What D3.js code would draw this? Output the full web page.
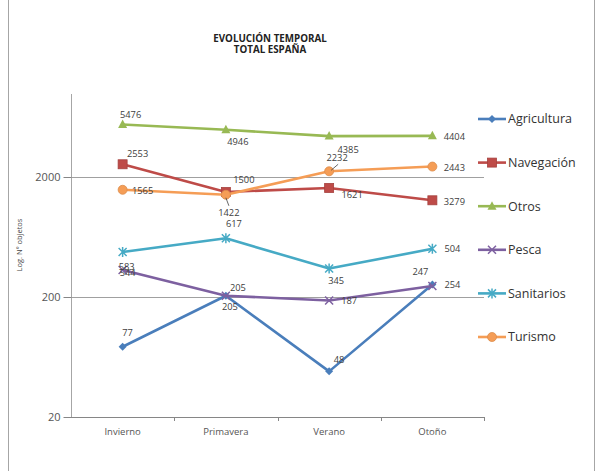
<!DOCTYPE html>
<html><head><meta charset="utf-8">
<script src="https://cdn.jsdelivr.net/npm/d3@7"></script>
<style>body{margin:0;background:#fff}svg{display:block}</style>
</head><body><svg id="c" width="598" height="471"></svg>
<script>
const categories = ["Invierno","Primavera","Verano","Otoño"];
const yTicks = [20, 200, 2000];
const seriesNames = ["Agricultura","Navegación","Otros","Pesca","Sanitarios","Turismo"];
const agricultura = [77, 205, 48, 254];
const navegacion  = [2553, 1500, 1621, 1279];
const otros       = [5476, 4946, 4385, 4404];
const pesca       = [336, 205, 187, 247];
const sanitarios  = [475, 617, 345, 504];
const turismo     = [1565, 1422, 2232, 2443];
const labAgricultura = ["77","205","48","254"];
const labNavegacion  = ["2553","1500","1621","3279"];
const labOtros       = ["5476","4946","4385","4404"];
const labPesca       = ["544","205","187","247"];
const labSanitarios  = ["583","617","345","504"];
const labTurismo     = ["1565","1422","2232","2443"];

const colors = ["#4A7EBB","#BE4B48","#98B954","#7D60A0","#46AAC5","#F59D56"];
const markers = ["diamond","square","triangle","x","asterisk","circle"];
// label offsets (layout)
const offsets = [
  [[5,-14],[4,11],[10,-12],[20,0]],
  [[15,-11],[18,-12],[23,7],[22,1]],
  [[8,-10],[12,12],[19,14],[22,1]],
  [[5,3],[12,-8],[20,0],[-12,-14]],
  [[4,15],[8,-15],[7,12],[20,0]],
  [[20,1],[3,18],[8,-14],[22,1]]
];
const seriesVals = [agricultura,navegacion,otros,pesca,sanitarios,turismo];
const seriesLabs = [labAgricultura,labNavegacion,labOtros,labPesca,labSanitarios,labTurismo];

const svg = d3.select("#c");
const L = 71, R = 484, B = 417, T = 94;
const x = d3.scalePoint().domain(categories).range([L, R]).padding(0.5);
const y = d3.scaleLog().domain([20, 2000]).range([B, 177]);

// frame
svg.append("line").attr("x1",8.5).attr("x2",8.5).attr("y1",0).attr("y2",471).attr("stroke","#A6A6A6");
svg.append("line").attr("x1",594.5).attr("x2",594.5).attr("y1",0).attr("y2",471).attr("stroke","#A6A6A6");

// title
const font = "'Open Sans', Lato, sans-serif";
svg.append("text").attr("x",270).attr("y",42).attr("text-anchor","middle")
  .attr("font-family",font).attr("font-weight","bold").attr("font-size",9.8).attr("fill","#222").text("EVOLUCIÓN TEMPORAL");
svg.append("text").attr("x",270).attr("y",53).attr("text-anchor","middle")
  .attr("font-family",font).attr("font-weight","bold").attr("font-size",9.8).attr("fill","#222").text("TOTAL ESPAÑA");

// gridlines
yTicks.filter(v=>v>20).forEach(v=>{
  svg.append("line").attr("x1",L).attr("x2",R).attr("y1",Math.round(y(v))+0.5).attr("y2",Math.round(y(v))+0.5)
    .attr("stroke","#A0A0A0").attr("stroke-width",1);
});
// y axis
svg.append("line").attr("x1",L+0.5).attr("x2",L+0.5).attr("y1",T).attr("y2",B).attr("stroke","#A6A6A6");
const yAxis = d3.axisLeft(y).tickValues(yTicks).tickFormat(d3.format("d")).tickSize(8).tickPadding(3);
const ga = svg.append("g").attr("transform",`translate(${L+0.5},0)`).call(yAxis);
ga.select(".domain").remove();
ga.selectAll("line").attr("stroke","#868686");
ga.selectAll("text").attr("font-family",font).attr("font-size",11).attr("fill","#555");
// x axis
svg.append("line").attr("x1",L).attr("x2",R).attr("y1",B+0.5).attr("y2",B+0.5).attr("stroke","#868686");
const step = x.step();
categories.forEach((c,i)=>{
  const tx = Math.round(x(c)+step/2)+0.5;
  svg.append("line").attr("x1",tx).attr("x2",tx).attr("y1",B).attr("y2",B+4).attr("stroke","#868686");
  svg.append("text").attr("x",x(c)).attr("y",B+18).attr("text-anchor","middle")
    .attr("font-family",font).attr("font-size",9.5).attr("fill","#555").text(c);
});
// y title
svg.append("text").attr("transform","translate(22,245) rotate(-90)").attr("text-anchor","middle")
  .attr("font-family",font).attr("font-size",7.5).attr("fill","#444").text("Log. Nº objetos");

function drawMarker(g, type, cx, cy, color){
  if(type==="diamond"){
    g.append("path").attr("d",`M${cx},${cy-4}L${cx+4},${cy}L${cx},${cy+4}L${cx-4},${cy}Z`).attr("fill",color);
  } else if(type==="square"){
    g.append("rect").attr("x",cx-4.5).attr("y",cy-4.5).attr("width",9).attr("height",9).attr("fill",color).attr("stroke",d3.color(color).darker(0.4)).attr("stroke-width",0.8);
  } else if(type==="triangle"){
    g.append("path").attr("d",`M${cx},${cy-5}L${cx+4.5},${cy+3.5}L${cx-4.5},${cy+3.5}Z`).attr("fill",color);
  } else if(type==="x"){
    g.append("path").attr("d",`M${cx-4},${cy-4}L${cx+4},${cy+4}M${cx-4},${cy+4}L${cx+4},${cy-4}`).attr("stroke",color).attr("stroke-width",1.5);
  } else if(type==="asterisk"){
    g.append("path").attr("d",`M${cx-4},${cy-4}L${cx+4},${cy+4}M${cx-4},${cy+4}L${cx+4},${cy-4}M${cx},${cy-5}L${cx},${cy+5}`).attr("stroke",color).attr("stroke-width",1.5);
  } else {
    g.append("circle").attr("cx",cx).attr("cy",cy).attr("r",4.5).attr("fill",color).attr("stroke",d3.color(color).darker(0.3)).attr("stroke-width",0.8);
  }
}

const line = d3.line().x((d,i)=>x(categories[i])).y(d=>y(d));
seriesVals.forEach((vals,si)=>{
  const g = svg.append("g");
  g.append("path").datum(vals).attr("d",line).attr("fill","none").attr("stroke",colors[si]).attr("stroke-width",2.6).attr("stroke-linejoin","round");
  vals.forEach((v,i)=>drawMarker(g, markers[si], x(categories[i]), y(v), colors[si]));
});
// leader lines
svg.append("line").attr("x1",x("Primavera")).attr("y1",y(turismo[1])+3).attr("x2",x("Primavera")+3).attr("y2",y(turismo[1])+11).attr("stroke","#404040").attr("stroke-width",0.8);
svg.append("line").attr("x1",x("Verano")+2).attr("y1",y(turismo[2])-1).attr("x2",x("Verano")+9).attr("y2",y(turismo[2])-7).attr("stroke","#404040").attr("stroke-width",0.8);
// data labels
seriesVals.forEach((vals,si)=>{
  vals.forEach((v,i)=>{
    const o = offsets[si][i];
    svg.append("text").attr("x",x(categories[i])+o[0]).attr("y",y(v)+o[1]).attr("dy","0.35em")
      .attr("text-anchor","middle").attr("font-family",font).attr("font-size",9.3).attr("fill","#404040")
      .text(seriesLabs[si][i]);
  });
});
// legend
seriesNames.forEach((n,si)=>{
  const ly = 119 + si*43.6;
  const g = svg.append("g");
  g.append("line").attr("x1",478).attr("x2",506).attr("y1",ly).attr("y2",ly).attr("stroke",colors[si]).attr("stroke-width",2.6);
  drawMarker(g, markers[si], 492, ly, colors[si]);
  g.append("text").attr("x",508).attr("y",ly).attr("dy","0.35em").attr("font-family",font).attr("font-size",12.5).attr("fill","#333").text(n);
});
</script></body></html>
